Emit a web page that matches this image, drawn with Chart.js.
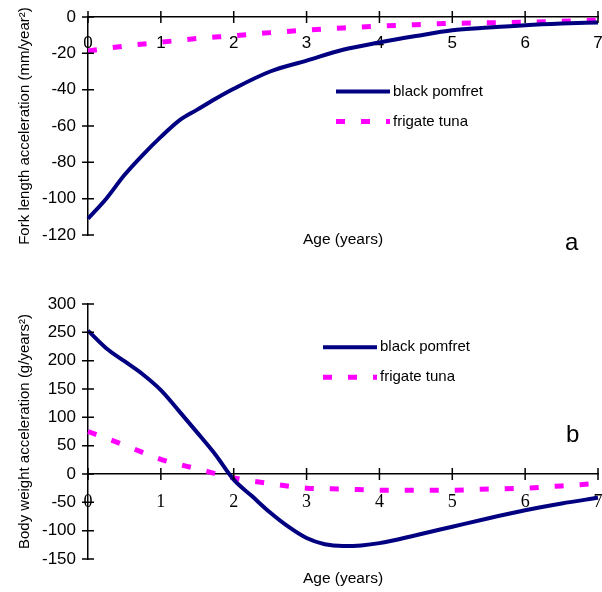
<!DOCTYPE html>
<html><head><meta charset="utf-8">
<script src="https://cdn.jsdelivr.net/npm/chart.js@4"></script>
<style>
html,body{margin:0;padding:0;background:#fff;}
#wrap{position:relative;width:602px;height:592px;overflow:hidden;}
canvas{position:absolute;left:0;}
</style></head><body>
<div id="wrap">
<canvas id="ca" width="602" height="270" style="top:0"></canvas>
<canvas id="cb" width="602" height="322" style="top:270px"></canvas>
</div>
<script>
// ---- data ----
const agesFine = [0,0.25,0.5,0.75,1,1.25,1.5,1.75,2,2.5,3,3.5,4,4.5,5,5.5,6,6.5,7];
const forkPomfret = [-111,-100,-87,-76,-66,-57,-51,-45,-39.5,-30,-24,-18,-14,-10.5,-7.3,-5.8,-4.5,-3.6,-3];
const agesHalf = [0,0.5,1,1.5,2,2.5,3,3.5,4,4.5,5,5.5,6,6.5,7];
const forkTuna = [-18.7,-16,-13.9,-11.8,-10.3,-8.6,-7.2,-6,-5,-4.2,-3.5,-3.2,-2.9,-2.3,-1.7];
const agesB = [0,0.25,0.5,0.75,1,1.25,1.5,1.75,2,2.25,2.5,2.75,3,3.25,3.5,3.75,4,4.5,5,5.5,6,6.5,7];
const weightPomfret = [253,222,199,176,148,111,73,34,-10,-39,-68,-93,-113,-124,-127,-126,-122,-108,-93,-78,-64,-52,-42];
const weightTuna = [75,51,26,9,-7,-17,-25,-26.5,-28.5,-28.5,-28.5,-26.5,-25,-21,-16.5];
const ageTicks = [0,1,2,3,4,5,6,7];
const forkTicks = [0,-20,-40,-60,-80,-100,-120];
const weightTicks = [300,250,200,150,100,50,0,-50,-100,-150];
const seriesNames = ['black pomfret','frigate tuna'];
const yTitleA = 'Fork length acceleration (mm/year\u00B2)';
const yTitleB = 'Body weight acceleration (g/years\u00B2)';
const xTitle = 'Age (years)';

// ---- styling ----
const SANS = '"Liberation Sans",Arial,sans-serif';
const SERIF = '"Liberation Serif","Times New Roman",serif';
Chart.defaults.font.family = SANS;
Chart.defaults.font.size = 17;
Chart.defaults.color = '#000';
const TXT = 15;

const pts = (xs, ys) => xs.map((x, i) => ({x, y: ys[i]}));

const crossTicks = {
  id: 'crossTicks',
  afterDraw(chart) {
    const {ctx} = chart;
    const xs = chart.scales.x, ys = chart.scales.y;
    const x0 = xs.getPixelForValue(0);
    const y0 = ys.getPixelForValue(0);
    ctx.save();
    ctx.strokeStyle = '#000';
    ctx.lineWidth = 1.5;
    ctx.beginPath();
    ys.ticks.forEach(t => { const p = ys.getPixelForValue(t.value); ctx.moveTo(x0 - 6, p); ctx.lineTo(x0 + 6, p); });
    xs.ticks.forEach(t => { const p = xs.getPixelForValue(t.value); ctx.moveTo(p, y0 - 6); ctx.lineTo(p, y0 + 6); });
    ctx.stroke();
    ctx.restore();
  }
};

const lineLegend = {
  id: 'lineLegend',
  afterDraw(chart, args, o) {
    const {ctx} = chart;
    ctx.save();
    chart.data.datasets.forEach((ds, i) => {
      const y = o.y + i * o.dy;
      ctx.strokeStyle = ds.borderColor;
      ctx.lineWidth = ds.borderWidth;
      ctx.setLineDash(ds.borderDash || []);
      ctx.lineCap = 'butt';
      ctx.beginPath(); ctx.moveTo(o.x1, y); ctx.lineTo(o.x2, y); ctx.stroke();
      ctx.setLineDash([]);
      ctx.fillStyle = '#000';
      ctx.font = TXT + 'px ' + SANS;
      ctx.textBaseline = 'middle';
      ctx.textAlign = 'left';
      ctx.fillText(ds.label, o.x2 + 3, y);
    });
    ctx.font = o.tagSize + 'px ' + SANS;
    ctx.textBaseline = 'alphabetic';
    ctx.fillText(o.tag, o.tagX, o.tagY);
    ctx.restore();
  }
};

function makeChart(id, cfg) {
  return new Chart(document.getElementById(id), {
    type: 'line',
    data: {
      datasets: [
        {label: seriesNames[0], data: cfg.d1, borderColor: '#000080', borderWidth: 4, pointRadius: 0, cubicInterpolationMode: 'monotone', clip: false},
        {label: seriesNames[1], data: cfg.d2, borderColor: '#FF00FF', borderWidth: 5, borderDash: [9, 16], borderCapStyle: 'butt', pointRadius: 0, cubicInterpolationMode: 'monotone', clip: false}
      ]
    },
    options: {
      responsive: false, animation: false, devicePixelRatio: 1,
      layout: {padding: cfg.pad},
      plugins: {legend: {display: false}, tooltip: {enabled: false}, lineLegend: cfg.legend},
      scales: {
        x: {
          type: 'linear', min: 0, max: 7, position: {y: 0},
          afterBuildTicks: s => { s.ticks = ageTicks.map(v => ({value: v})); },
          afterFit: s => { s.paddingLeft = 0; s.paddingRight = 0; },
          grid: {display: false, drawTicks: false},
          border: {display: true, color: '#000', width: 1.5},
          ticks: {padding: cfg.xPad, font: cfg.xFont, maxRotation: 0, autoSkip: false}
        },
        x2: {
          type: 'linear', position: 'bottom', display: true,
          grid: {display: false, drawTicks: false}, border: {display: false},
          ticks: {display: false},
          title: {display: true, text: xTitle, font: {size: 15.5, lineHeight: cfg.xtLH}, padding: {top: cfg.xtPad, bottom: 0}}
        },
        y: {
          type: 'linear', min: cfg.ymin, max: cfg.ymax,
          afterBuildTicks: s => { s.ticks = cfg.yTicks.map(v => ({value: v})); },
          afterFit: s => { s.width = 88; s.paddingTop = 0; s.paddingBottom = 0; },
          grid: {display: false, drawTicks: false},
          border: {display: true, color: '#000', width: 1.5},
          ticks: {padding: 12},
          title: {display: true, text: cfg.yTitle, font: {size: 15}, padding: {top: 16, bottom: 0}}
        }
      }
    },
    plugins: [crossTicks, lineLegend]
  });
}

makeChart('ca', {
  d1: pts(agesFine, forkPomfret), d2: pts(agesHalf, forkTuna),
  ymin: -120, ymax: 0, yTicks: forkTicks, yTitle: yTitleA,
  pad: {top: 17, left: 0, right: 4, bottom: 25.7},
  xPad: 16, xFont: {family: SANS, size: 17},
  xtLH: 0.6, xtPad: 0,
  legend: {x1: 336, x2: 390, y: 91.5, dy: 30, tag: 'a', tagX: 565, tagY: 250, tagSize: 24}
});

makeChart('cb', {
  d1: pts(agesB, weightPomfret), d2: pts(agesHalf, weightTuna),
  ymin: -150, ymax: 300, yTicks: weightTicks, yTitle: yTitleB,
  pad: {top: 34, left: 0, right: 4, bottom: 3.7},
  xPad: 17, xFont: {family: SERIF, size: 18},
  xtLH: 1.2, xtPad: 10.7,
  legend: {x1: 323, x2: 377, y: 77.3, dy: 30, tag: 'b', tagX: 566, tagY: 171.7, tagSize: 24}
});
</script>
</body></html>
